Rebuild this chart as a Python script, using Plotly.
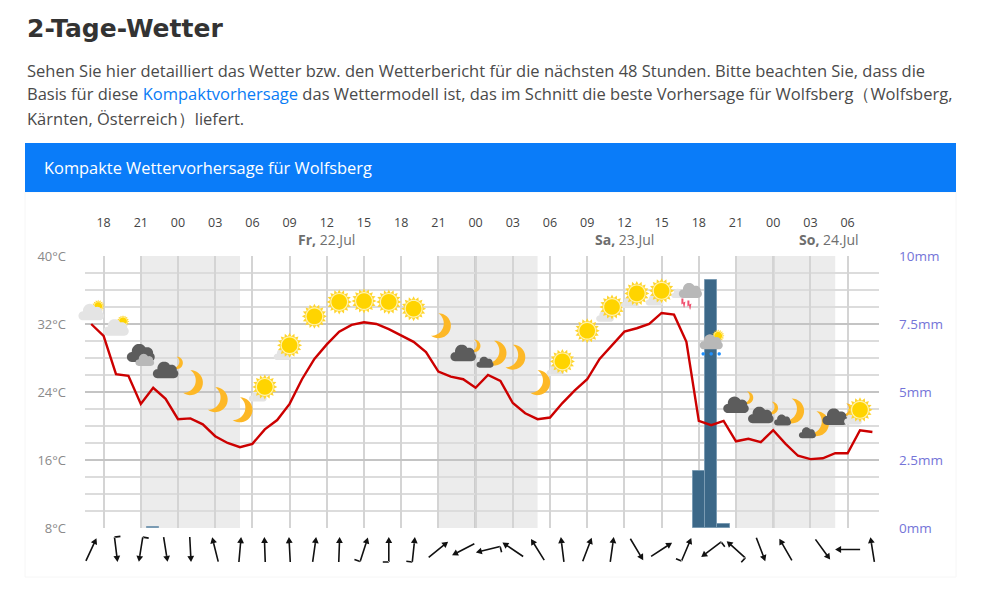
import math
import plotly.graph_objects as go

# ---------- data ----------
temp_hours = list(range(-1, 63))
temps = [32.0, 30.6, 26.1, 25.9, 22.6, 24.5, 23.2, 20.8, 20.9, 20.2, 18.8, 18.0, 17.5, 17.9,
         19.6, 20.7, 22.6, 25.5, 27.9, 29.6, 31.1, 31.9, 32.2, 32.0, 31.4, 30.6, 29.9, 28.7,
         26.4, 25.8, 25.5, 24.5, 26.0, 25.3, 22.7, 21.5, 20.8, 21.0, 22.7, 24.2, 25.5, 27.9,
         29.5, 31.1, 31.5, 32.0, 33.3, 33.1, 29.9, 20.6, 20.1, 20.6, 18.2, 18.5, 18.1, 19.5,
         17.9, 16.5, 16.1, 16.2, 16.8, 16.8, 19.5, 19.3]
rain_hours = [4, 48, 49, 50]
rain_mm = [0.05, 2.1, 9.1, 0.15]
tick_hours = list(range(0, 61, 3))
tick_labels = ["18", "21", "00", "03", "06", "09", "12", "15", "18", "21", "00", "03", "06",
               "09", "12", "15", "18", "21", "00", "03", "06"]
date_hours = [18, 42, 58.5]
date_days = ["Fr,", "Sa,", "So,"]
date_rest = ["22.Jul", "23.Jul", "24.Jul"]
temp_ticks = [8, 16, 24, 32, 40]
rain_ticks = [0, 2.5, 5, 7.5, 10]
rain_labels = ["0mm", "2.5mm", "5mm", "7.5mm", "10mm"]
night_start = [3, 27, 51]
night_end = [11, 35, 59]
midnights = [6, 30, 54]
icon_hours = list(range(-1, 62, 2))
icon_temps = [33.4, 31.6, 28.6, 26.6, 25.1, 23.1, 21.9, 24.6, 29.5, 32.9, 34.6, 34.7, 34.6, 33.8,
              31.8, 28.6, 28.1, 28.1, 25.1, 27.6, 31.2, 34.0, 35.6, 35.9, 35.6, 29.9, 22.5, 21.3,
              21.3, 19.8, 21.1, 21.9]
icon_kinds = ["part", "part", "dark2", "darkmoon", "moon", "moon", "moon", "suncloud", "suncloud",
              "sun", "sun", "sun", "sun", "sun", "moon", "darkmoon", "moondark", "moon", "moon",
              "suncloud", "sun", "suncloud", "suncloud", "suncloud", "thunder", "rain", "darkmoon",
              "darkmoon", "moondark", "moondark", "darkmoon", "suncloud"]
wind_hours = list(range(-1, 56, 2)) + [58, 60, 62]
wind_heading = [25, 173, 189, 171, 177, 346, 5, 358, 357, 8, 2, 18, 0, 6, 51, 243, 256, 304, 328,
                353, 21, 8, 149, 57, 23, 233, 312, 159, 330, 144, 270, 351]
wind_barb = [0, 1, 1, 0, 0, 0, 0, 0, 0, 0, 0, 1, 1, 1, 0, 0, 1, 0, 0,
             0, 0, 0, 0, 0, 1, 1, 1, 0, 0, 0, 0, 0]
heading_lines = [
    'Sehen Sie hier detailliert das Wetter bzw. den Wetterbericht für die nächsten 48 Stunden. Bitte beachten Sie, dass die',
    'Basis für diese <span style="color:#0a7cf5">Kompaktvorhersage</span> das Wettermodell ist, das im Schnitt die beste Vorhersage für Wolfsberg（Wolfsberg,',
    'Kärnten, Österreich）liefert.',
]

# ---------- page geometry ----------
W, H = 1000, 595
L, R, T, B = 85, 879, 256, 528
XMIN, XMAX = (L - 103.6) / 12.4, (R - 103.6) / 12.4
YMIN, YMAX = 8, 40


def fx(px):
    return (px - L) / (R - L)


def fy(py):
    return (B - py) / (B - T)


def hx(h):
    return (h - XMIN) / (XMAX - XMIN)


def ty(t):
    return (t - YMIN) / (YMAX - YMIN)


# ---------- pictogram helpers (pixel offsets, y down) ----------
def poly(pts):
    return "M" + "L".join(f"{x:.2f},{-y:.2f}" for x, y in pts) + "Z"


def circle(cx, cy, r, n=28):
    return poly([(cx + r * math.cos(2 * math.pi * i / n), cy + r * math.sin(2 * math.pi * i / n)) for i in range(n)])


def cloud(cx, cy, s):
    p = circle(cx - 2 * s, cy - 2 * s, 9 * s) + circle(cx + 8 * s, cy, 7 * s)
    p += circle(cx - 11 * s, cy + 5 * s, 6 * s) + circle(cx + 11 * s, cy + 5 * s, 6 * s)
    p += poly([(cx - 11 * s, cy), (cx + 11 * s, cy), (cx + 11 * s, cy + 11 * s), (cx - 11 * s, cy + 11 * s)])
    return p


def star(cx, cy, s):
    pts = []
    for i in range(32):
        r = (12.5 if i % 2 == 0 else 9.2) * s
        a = math.pi * i / 16
        pts.append((cx + r * math.cos(a), cy + r * math.sin(a)))
    return poly(pts)


def moon(cx, cy, s, rot=18):
    R_o, tip = 12.5 * s, math.radians(108)
    pts = [(R_o * math.cos(a), R_o * math.sin(a)) for a in [-tip + 2 * tip * i / 20 for i in range(21)]]
    c, r = -7.4 * s, 12.4 * s
    tipang = math.atan2(R_o * math.sin(tip), R_o * math.cos(tip) - c)
    pts += [(c + r * math.cos(a), r * math.sin(a)) for a in [tipang - 2 * tipang * i / 20 for i in range(21)]]
    t = math.radians(rot)
    return poly([(cx + x * math.cos(t) - y * math.sin(t), cy + x * math.sin(t) + y * math.cos(t)) for x, y in pts])


LIGHT, DARK, GREY, GOLD, RAY, MOON = "#e4e4e4", "#5c5c5c", "#b8b8b8", "#ffd400", "#ffd52e", "#fdb827"


def sun_parts(cx, cy, s):
    return [(star(cx, cy, s), RAY), (circle(cx, cy, 9 * s), "#fff3b0"), (circle(cx, cy, 7.8 * s), GOLD)]


def icon_parts(kind):
    if kind == "sun":
        return sun_parts(0, 0, 1)
    if kind == "moon":
        return [(moon(0, 0, 1), MOON)]
    if kind == "suncloud":
        return [(cloud(-7, 9, 0.52), LIGHT)] + sun_parts(0, 0, 1)
    if kind == "part":
        return sun_parts(7, -6, 0.5) + [(cloud(0, 0, 0.75), LIGHT)]
    if kind == "dark2":
        return [(cloud(0, 0, 0.82), DARK), (cloud(4, 7, 0.55), GREY)]
    if kind == "darkmoon":
        return [(moon(11, -7, 0.5), MOON), (cloud(0, 0, 0.75), DARK)]
    if kind == "moondark":
        return [(moon(6, -4, 1), MOON), (cloud(-3, 5, 0.5), DARK)]
    if kind == "thunder":
        bolt = poly([(-5, 5), (-3, 5), (-3, 9), (-1, 8), (-2, 14), (-2.6, 14), (-3.4, 10), (-5, 11)])
        bolt2 = poly([(1, 7), (3, 7), (3, 11), (5, 10), (4, 16), (3.4, 16), (2.6, 12), (1, 13)])
        return [(cloud(-8, 0, 0.42), LIGHT), (cloud(4, -3, 0.68), GREY), (bolt, "#f0506e"), (bolt2, "#f0506e")]
    if kind == "rain":
        dots = circle(-8, 12, 1.7) + circle(0, 12, 1.7) + circle(8, 12, 1.7)
        return sun_parts(7, -6, 0.5) + [(cloud(0, 0, 0.68), GREY), (dots, "#1e90ff")]
    return []


def arrow_path(heading, barb):
    a = math.radians(heading)
    ux, uy = math.sin(a), -math.cos(a)
    nx, ny = uy, -ux          # left of the heading on screen
    half, wid = 12.5, 0.8
    tail = (-ux * half, -uy * half)
    base = (ux * (half - 6), uy * (half - 6))
    tip = (ux * half, uy * half)
    p = poly([(tail[0] + nx * wid, tail[1] + ny * wid), (base[0] + nx * wid, base[1] + ny * wid),
              (base[0] - nx * wid, base[1] - ny * wid), (tail[0] - nx * wid, tail[1] - ny * wid)])
    p += poly([tip, (base[0] + nx * 3.4, base[1] + ny * 3.4), (base[0] - nx * 3.4, base[1] - ny * 3.4)])
    if barb:
        e = (tail[0] + nx * 6, tail[1] + ny * 6)
        p += poly([(tail[0] + ux * wid, tail[1] + uy * wid), (e[0] + ux * wid, e[1] + uy * wid),
                   (e[0] - ux * wid, e[1] - uy * wid), (tail[0] - ux * wid, tail[1] - uy * wid)])
    return p


# ---------- figure ----------
fig = go.Figure()
fig.add_trace(go.Bar(x=rain_hours, y=rain_mm, width=1, yaxis="y", xaxis="x",
                     marker=dict(color="#3c6888", line=dict(color="#7a9bb3", width=1)), hoverinfo="skip"))
fig.add_trace(go.Scatter(x=temp_hours, y=temps, yaxis="y2", xaxis="x", mode="lines",
                         line=dict(color="#cc0000", width=2.4), hoverinfo="skip", cliponaxis=False))

shapes = []
shapes.append(dict(type="rect", xref="paper", yref="paper", x0=fx(25), x1=fx(956), y0=fy(577), y1=fy(192),
                   line=dict(color="#f6f6f6", width=1), fillcolor="rgba(0,0,0,0)", layer="below"))
shapes.append(dict(type="rect", xref="paper", yref="paper", x0=fx(25), x1=fx(956), y0=fy(192), y1=fy(143),
                   line=dict(width=0), fillcolor="#0a7cf9", layer="below"))
for a, b in zip(night_start, night_end):
    shapes.append(dict(type="rect", xref="x", yref="paper", x0=a, x1=b, y0=0, y1=1,
                       line=dict(width=0), fillcolor="#ececec", layer="below"))
for m in midnights:
    shapes.append(dict(type="line", xref="x", yref="paper", x0=m, x1=m, y0=0, y1=1,
                       line=dict(color="#9c9c9c", width=2), layer="between"))
for h, t, k in zip(icon_hours, icon_temps, icon_kinds):
    for path, col in icon_parts(k):
        shapes.append(dict(type="path", xref="paper", yref="paper", xsizemode="pixel", ysizemode="pixel",
                           xanchor=hx(h), yanchor=ty(t), path=path, fillcolor=col, fillrule="nonzero",
                           line=dict(width=0), layer="above"))
for h, d, b in zip(wind_hours, wind_heading, wind_barb):
    shapes.append(dict(type="path", xref="paper", yref="paper", xsizemode="pixel", ysizemode="pixel",
                       xanchor=hx(h), yanchor=fy(549.5), path=arrow_path(d, b), fillcolor="#111111",
                       fillrule="nonzero", line=dict(width=0), layer="above"))

ann = []
ann.append(dict(text="2-Tage-Wetter", x=fx(25), y=fy(28), xref="paper", yref="paper", xanchor="left", yanchor="middle",
                showarrow=False, font=dict(family="DejaVu Sans", size=25, color="#333333", weight="bold")))
for txt, py in zip(heading_lines, [70, 94, 118]):
    ann.append(dict(text=txt, x=fx(25), y=fy(py), xref="paper", yref="paper", xanchor="left", yanchor="middle",
                    showarrow=False, font=dict(family="Open Sans", size=16.5, color="#4a4a4a")))
ann.append(dict(text="Kompakte Wettervorhersage für Wolfsberg", x=fx(41.5), y=fy(167), xref="paper", yref="paper",
                xanchor="left", yanchor="middle", showarrow=False,
                font=dict(family="Open Sans", size=16.4, color="#ffffff")))
for h, d, r in zip(date_hours, date_days, date_rest):
    ann.append(dict(text=f"<b>{d}</b> {r}", x=h, y=fy(239), xref="x", yref="paper", xanchor="center", yanchor="middle",
                    showarrow=False, font=dict(family="Open Sans", size=14, color="#6e6e6e")))

fig.update_layout(
    width=W, height=H, margin=dict(l=L, r=W - R, t=T, b=H - B, pad=0, autoexpand=False),
    paper_bgcolor="#ffffff", plot_bgcolor="rgba(0,0,0,0)", showlegend=False, bargap=0,
    shapes=shapes, annotations=ann,
    xaxis=dict(range=[XMIN, XMAX], side="top", tickmode="array", tickvals=tick_hours, ticktext=tick_labels,
               showgrid=True, gridcolor="#d4d4d4", gridwidth=1.6, zeroline=False, ticks="", ticklabelstandoff=26,
               tickfont=dict(family="Open Sans", size=12.5, color="#444444"), showline=False),
    yaxis=dict(range=[0, 10], side="right", tickmode="array", tickvals=rain_ticks, ticktext=rain_labels,
               showgrid=True, gridcolor="#c4c4c4", gridwidth=2, zeroline=False, ticks="", ticklabelstandoff=19,
               tickfont=dict(family="Open Sans", size=13.5, color="#7474d8"), showline=False,
               minor=dict(tickmode="array", tickvals=[i * 0.625 for i in range(17) if i % 4], showgrid=True,
                          gridcolor="#dcdcdc", gridwidth=1.6, ticks="")),
    yaxis2=dict(range=[YMIN, YMAX], overlaying="y", side="left", anchor="x", tickmode="array", tickvals=temp_ticks,
                ticktext=[f"{v}°C" for v in temp_ticks], showgrid=False, zeroline=False, ticks="",
                ticklabelstandoff=18, tickfont=dict(family="Open Sans", size=13, color="#8a8a8a"), showline=False),
)

fig.write_html("out.html", config={"displayModeBar": False},
               post_script="document.body.style.margin='0';document.body.style.overflow='hidden';")
